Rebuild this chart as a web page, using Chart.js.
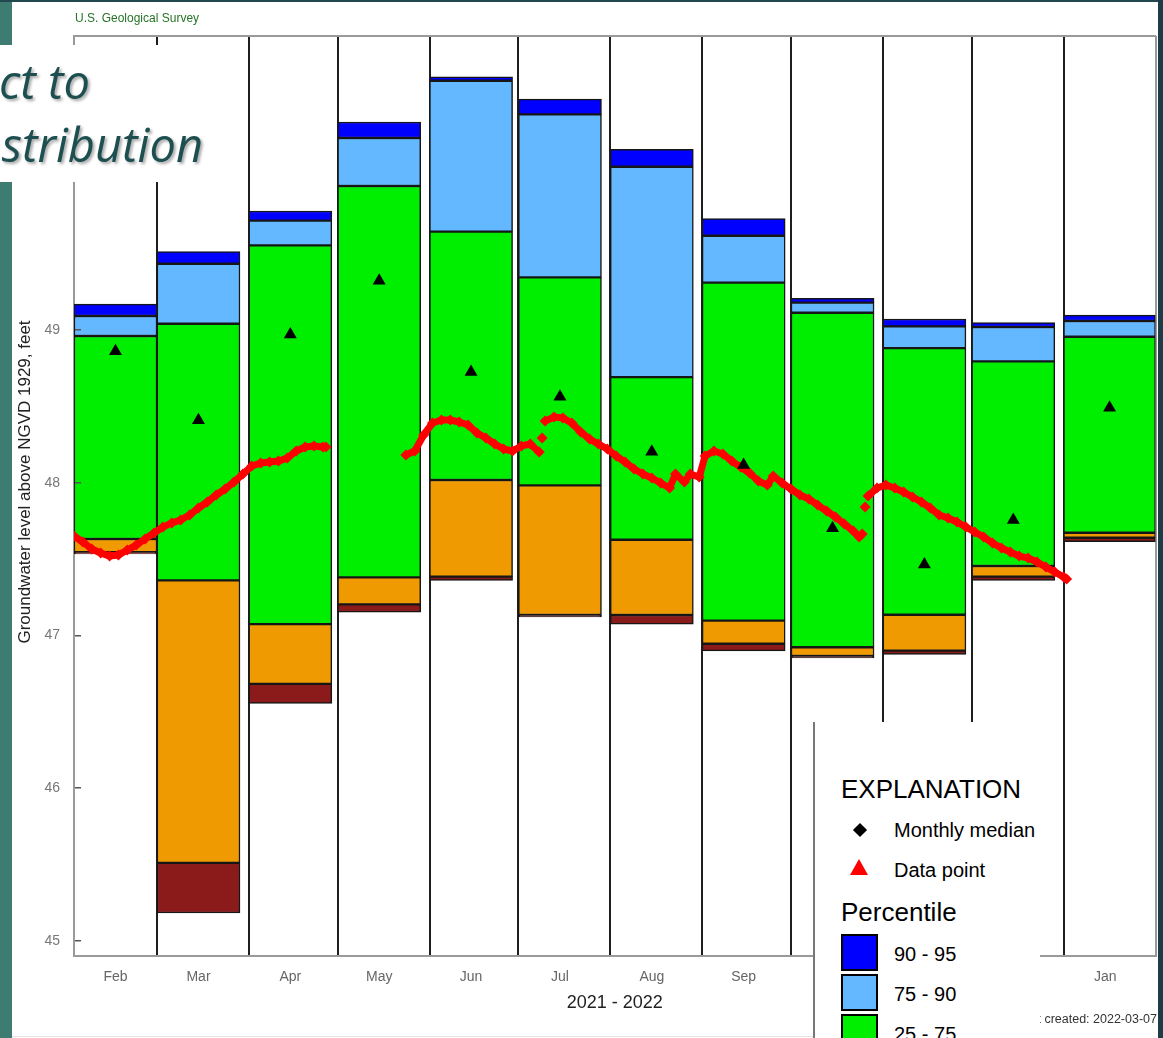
<!DOCTYPE html>
<html>
<head>
<meta charset="utf-8">
<script src="https://cdn.jsdelivr.net/npm/chart.js@4.4.0/dist/chart.umd.min.js"></script>
<style>
  html, body { margin: 0; padding: 0; background: #fff; }
  #page { position: relative; width: 1163px; height: 1038px; overflow: hidden; background: #fff;
          font-family: "Liberation Sans", Arial, sans-serif; }
  #chart { position: absolute; left: 0; top: 0; z-index: 1; }
  .abs { position: absolute; z-index: 2; }
  .strip-left { left: 0; top: 0; width: 12px; height: 1038px; background: #3e7b70; }
  .strip-top { left: 0; top: 0; width: 1163px; height: 2px; background: #21494d; }
  .strip-right { left: 1158px; top: 0; width: 5px; height: 1038px; background: #1d3c48; }
  .foot-line { left: 12px; top: 1036px; width: 801px; height: 1px; background: #e2e2e2; }
  .agency { left: 75px; top: 12px; font-size: 12px; line-height: 1; color: #267326; white-space: nowrap; }
  /* rotated axis title: even box size with an integer centre at (25, 482) */
  .y-title { left: -140px; top: 473px; width: 330px; height: 18px; font-size: 17px; line-height: 18px;
             text-align: center; color: #222; white-space: nowrap;
             transform-origin: 50% 50%; transform: rotate(-90deg); }
  .title-box { left: 0; top: 45px; width: 220px; height: 137px; background: #fff; overflow: hidden; z-index: 3; }
  .title-line { position: absolute; font-family: "Open Sans", sans-serif; font-style: italic; font-size: 47px;
                line-height: 1; color: #1d4f50; white-space: nowrap; text-align: right;
                text-shadow: 2px 2px 3px rgba(0,0,0,0.35); }
  .created { right: 6px; top: 1013px; font-size: 12.5px; line-height: 1; color: #333; white-space: nowrap; }
  .expl { left: 813px; top: 722px; width: 225px; height: 330px; background: #fff;
          border-left: 2px solid #777; z-index: 3; }
  .lg { position: absolute; z-index: 4; line-height: 1; color: #000; white-space: nowrap; }
  .lg-big { font-size: 26px; }
  .lg-txt { font-size: 20px; }
  .diamond { position: absolute; z-index: 4; width: 10px; height: 10px; background: #000; transform: rotate(45deg); }
  .tri { position: absolute; z-index: 4; width: 0; height: 0; border-left: 9.5px solid transparent;
         border-right: 9.5px solid transparent; border-bottom: 16px solid #ff0000; }
  .swatch { position: absolute; z-index: 4; width: 33px; height: 33px; border: 2.5px solid #000; }
</style>
</head>
<body>
<div id="page">
  <canvas id="chart" width="1163" height="1038"></canvas>

  <div class="abs strip-left"></div>
  <div class="abs strip-top"></div>
  <div class="abs strip-right"></div>
  <div class="abs foot-line"></div>
  <div class="abs agency">U.S. Geological Survey</div>
  <div class="abs y-title">Groundwater level above NGVD 1929, feet</div>

  <div class="abs title-box">
    <div class="title-line" style="right:130px; top:13px;">ct to</div>
    <div class="title-line" style="right:17px; top:76px;">stribution</div>
  </div>

  <div class="abs created">Plot created: 2022-03-07</div>

  <div class="abs expl"></div>
  <div class="lg lg-big" style="left:841px; top:776px;">EXPLANATION</div>
  <div class="diamond" style="left:855px; top:825px;"></div>
  <div class="lg lg-txt" style="left:894px; top:820px;">Monthly median</div>
  <div class="tri" style="left:850px; top:859px;"></div>
  <div class="lg lg-txt" style="left:894px; top:860px;">Data point</div>
  <div class="lg lg-big" style="left:841px; top:899px;">Percentile</div>
  <div class="swatch" style="left:841px; top:934px; background:#0000ff;"></div>
  <div class="lg lg-txt" style="left:894px; top:944px;">90 - 95</div>
  <div class="swatch" style="left:841px; top:974px; background:#63b8ff;"></div>
  <div class="lg lg-txt" style="left:894px; top:984px;">75 - 90</div>
  <div class="swatch" style="left:841px; top:1014px; background:#00ee00;"></div>
  <div class="lg lg-txt" style="left:894px; top:1024px;">25 - 75</div>
</div>

<script>
// ---- data -------------------------------------------------------------
const months = ['Feb', 'Mar', 'Apr', 'May', 'Jun', 'Jul', 'Aug', 'Sep', 'Oct', 'Nov', 'Dec', 'Jan'];
// day offset (from 1 Feb 2021) of each month start; last entry is 1 Feb 2022
const monthStartDay = [0, 28, 59, 89, 120, 150, 181, 212, 242, 273, 303, 334, 365];
const yTicks = [45, 46, 47, 48, 49, 50];

// monthly percentiles of groundwater level, feet
const p5  = [47.534, 45.183, 46.556, 47.152, 47.361, 47.121, 47.075, 46.899, 46.853, 46.877, 47.361, 47.614];
const p10 = [47.545, 45.511, 46.683, 47.204, 47.385, 47.134, 47.134, 46.946, 46.866, 46.901, 47.385, 47.640];
const p25 = [47.632, 47.361, 47.075, 47.381, 48.018, 47.983, 47.627, 47.097, 46.923, 47.136, 47.455, 47.673];
const p75 = [48.961, 49.041, 49.554, 49.943, 49.644, 49.345, 48.692, 49.310, 49.113, 48.882, 48.795, 48.956];
const p90 = [49.092, 49.434, 49.716, 50.257, 50.632, 50.412, 50.069, 49.617, 49.179, 49.024, 49.020, 49.059];
const p95 = [49.170, 49.513, 49.779, 50.362, 50.658, 50.512, 50.183, 49.729, 49.207, 49.072, 49.048, 49.098];
const monthlyMedian = [48.861, 48.409, 48.971, 49.322, 48.726, 48.563, 48.203, 48.116, 47.702, 47.465, 47.757, 48.491];

// daily readings (day offset from 1 Feb 2021); null marks a break in the record
const obsDay = [
  0, 3, 6, 9, 12, 15, 18, 21, 24, 27, 30, 33, 36, 39, 42, 45, 48, 51, 54, 57, 60, 63, 66, 69, 72, 75, 78, 81, 84, 85,
  98,
  112, 115, 118, 121, 124, 127, 130, 133, 136, 139, 142, 145, 148, 151, 154, 157,
  157.5, 158, 158.5,
  159, 162, 165, 168, 171, 174, 177, 180, 183, 186, 189, 192, 195, 198, 201, 203, 206, 208, 211, 213, 216, 219,
  222, 225, 228, 231, 234, 236, 239, 242, 245, 248, 251, 254, 257, 260, 263, 265, 266,
  266.5, 267, 267.5,
  268, 271, 274, 277, 280, 283, 286, 289, 292, 295, 298, 301, 304, 307, 310, 313, 316, 319, 322, 325, 328, 331, 334, 335
];
const obsLevel = [
  47.651, 47.612, 47.566, 47.540, 47.520, 47.527, 47.560, 47.592, 47.632, 47.671, 47.710, 47.737, 47.756, 47.789,
  47.835, 47.874, 47.920, 47.959, 48.005, 48.057, 48.110, 48.129, 48.136, 48.142, 48.162, 48.208, 48.234, 48.241,
  48.234, 48.234,
  null,
  48.182, 48.208, 48.313, 48.391, 48.411, 48.411, 48.398, 48.378, 48.326, 48.293, 48.254, 48.221, 48.208, 48.241,
  48.254, 48.201,
  null, 48.293, null,
  48.404, 48.430, 48.424, 48.391, 48.332, 48.286, 48.254, 48.221, 48.175, 48.136, 48.090, 48.057, 48.031, 47.998,
  47.966, 48.057, 48.005, 48.057, 48.038, 48.175, 48.208, 48.188,
  48.142, 48.103, 48.064, 48.011, 47.985, 48.044, 47.998, 47.959, 47.920, 47.894, 47.854, 47.815, 47.776, 47.730,
  47.684, 47.645, 47.664,
  null, 47.841, null,
  47.913, 47.966, 47.985, 47.966, 47.939, 47.907, 47.874, 47.835, 47.789, 47.769, 47.743, 47.710, 47.678, 47.645,
  47.606, 47.573, 47.547, 47.520, 47.507, 47.481, 47.448, 47.416, 47.383, 47.370
];

// ---- layout -----------------------------------------------------------
const CANVAS_W = 1163, CANVAS_H = 1038;
const PLOT_LEFT = 74, PLOT_RIGHT = 1157, PLOT_TOP = 36, PLOT_BOTTOM = 955.5;
const TOTAL_DAYS = monthStartDay[monthStartDay.length - 1];
const PX_PER_DAY = (PLOT_RIGHT - PLOT_LEFT) / TOTAL_DAYS;
const BAR_DAYS = 28;                      // each monthly bar starts on the 1st
const Y_MIN = 44.905, Y_MAX = 50.925;

function barEnd(i) {
  return i < months.length - 1 ? monthStartDay[i] + BAR_DAYS : monthStartDay[i + 1];
}
function barCenter(i) { return (monthStartDay[i] + barEnd(i)) / 2; }

// percentile bands, top to bottom
const bands = [
  { name: '90 - 95', lo: p90, hi: p95, color: '#0000ff' },
  { name: '75 - 90', lo: p75, hi: p90, color: '#63b8ff' },
  { name: '25 - 75', lo: p25, hi: p75, color: '#00ee00' },
  { name: '10 - 25', lo: p10, hi: p25, color: '#ee9a00' },
  { name: '5 - 10',  lo: p5,  hi: p10, color: '#8b1a1a' }
];

// months whose bars span the same number of days share one dataset per band
const widthGroups = {};
months.forEach((m, i) => {
  const w = barEnd(i) - monthStartDay[i];
  (widthGroups[w] = widthGroups[w] || []).push(i);
});

const barSets = [];
bands.forEach(b => {
  Object.keys(widthGroups).forEach(w => {
    const idx = widthGroups[w];
    barSets.push({
      type: 'bar',
      label: b.name,
      grouped: false,
      barThickness: Number(w) * PX_PER_DAY,
      data: idx.map(i => ({ x: barCenter(i), y: [b.lo[i], b.hi[i]] })),
      backgroundColor: b.color,
      borderColor: '#161616',
      borderWidth: 1.5,
      borderSkipped: false
    });
  });
});

const medianSet = {
  type: 'scatter',
  label: 'Monthly median',
  data: months.map((m, i) => ({ x: barCenter(i), y: monthlyMedian[i] })),
  pointStyle: 'triangle',
  pointRadius: 7.5,
  backgroundColor: '#000',
  borderWidth: 0,
  showLine: false
};

const obsSet = {
  type: 'line',
  label: 'Data point',
  data: obsDay.map((d, i) => ({ x: d, y: obsLevel[i] })),
  borderColor: '#ff0000',
  borderWidth: 7,
  borderJoinStyle: 'round',
  borderCapStyle: 'round',
  pointStyle: 'rectRot',
  pointRadius: 5.5,
  pointBackgroundColor: '#ff0000',
  pointBorderWidth: 0,
  spanGaps: false,
  tension: 0
};

Chart.defaults.font.family = '"Liberation Sans", Arial, sans-serif';

new Chart(document.getElementById('chart'), {
  type: 'bar',
  data: { datasets: [medianSet, obsSet, ...barSets] },
  options: {
    responsive: false,
    devicePixelRatio: 1,
    animation: false,
    events: [],
    layout: { padding: { left: 0, right: CANVAS_W - PLOT_RIGHT, top: PLOT_TOP, bottom: 0 } },
    plugins: { legend: { display: false }, tooltip: { enabled: false }, title: { display: false } },
    scales: {
      x: {
        type: 'linear', position: 'bottom', min: 0, max: TOTAL_DAYS, offset: false,
        afterBuildTicks: s => { s.ticks = monthStartDay.map(v => ({ value: v })); },
        afterFit: s => { s.height = CANVAS_H - PLOT_BOTTOM; s.paddingLeft = 0; s.paddingRight = 0; },
        grid: {
          offset: false, drawTicks: false, drawOnChartArea: true, lineWidth: 2,
          color: c => (c.index === 0 || c.index === monthStartDay.length - 1) ? '#9a9a9a' : '#1e1e1e'
        },
        border: { display: true, color: '#9a9a9a', width: 2 },
        ticks: {
          autoSkip: false, maxRotation: 0, color: '#666', font: { size: 14 },
          padding: 13, labelOffset: BAR_DAYS * PX_PER_DAY / 2,
          callback: (v, i) => (i < months.length ? months[i] : '')
        },
        title: { display: true, text: '2021 - 2022', color: '#222', font: { size: 18 }, padding: { top: 0, bottom: 24 } }
      },
      xTop: {
        type: 'linear', position: 'top', min: 0, max: TOTAL_DAYS, offset: false,
        afterFit: s => { s.height = 0; s.paddingLeft = 0; s.paddingRight = 0; },
        ticks: { display: false },
        grid: { display: false, drawTicks: false },
        border: { display: true, color: '#9a9a9a', width: 2 }
      },
      y: {
        type: 'linear', position: 'left', min: Y_MIN, max: Y_MAX, beginAtZero: false,
        afterBuildTicks: s => { s.ticks = yTicks.map(v => ({ value: v })); },
        afterFit: s => { s.width = PLOT_LEFT; },
        // short inward tick marks, drawn above the bars
        grid: { drawOnChartArea: true, drawTicks: false, color: '#555', lineWidth: 1.5, z: 1 },
        border: { display: true, color: '#9a9a9a', width: 2, dash: [6, 4000] },
        ticks: { color: '#777', font: { size: 14 }, padding: 14, callback: v => String(v) },
        title: { display: false }
      }
    }
  }
});
</script>
</body>
</html>
